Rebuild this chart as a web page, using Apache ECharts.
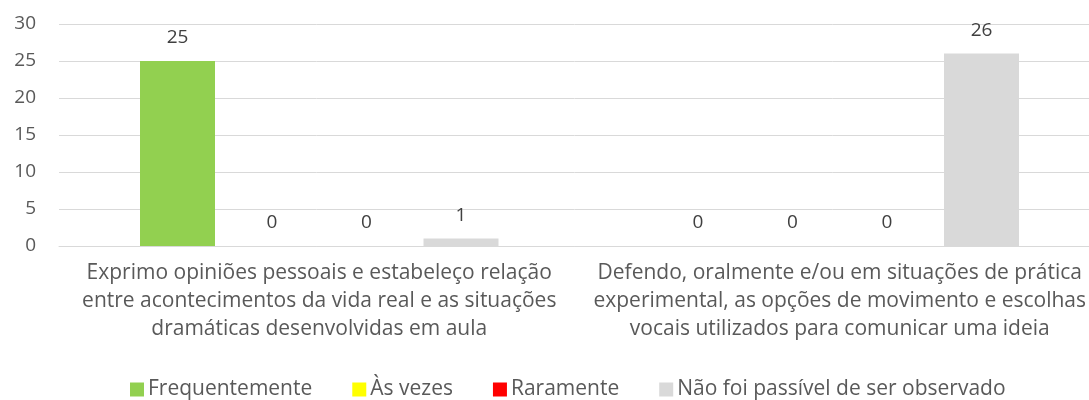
<!DOCTYPE html>
<html>
<head>
<meta charset="utf-8">
<script src="https://cdn.jsdelivr.net/npm/echarts@6/dist/echarts.min.js"></script>
<style>
  html, body { margin: 0; padding: 0; background: #fff; }
  #chart { width: 1089px; height: 400px; }
</style>
</head>
<body>
<div id="chart"></div>
<script>
// categorias (eixo x)
const categories = [
  "Exprimo opiniões pessoais e estabeleço relação\nentre acontecimentos da vida real e as situações\ndramáticas desenvolvidas em aula",
  "Defendo, oralmente e/ou em situações de prática\nexperimental, as opções de movimento e escolhas\nvocais utilizados para comunicar uma ideia"
];
const seriesNames = ["Frequentemente", "Às vezes", "Raramente", "Não foi passível de ser observado"];
const frequentemente = [25, 0];
const asVezes = [0, 0];
const raramente = [0, 0];
const naoObservado = [1, 26];
const colors = ["#92D050", "#FFFF00", "#FF0000", "#D9D9D9"];

const fontFamily = "'Open Sans', sans-serif";
const myChart = echarts.init(document.getElementById("chart"));

const dataList = [frequentemente, asVezes, raramente, naoObservado];
let list = [];
for (let i = 0; i < dataList.length; i++) {
  list.push({
    name: seriesNames[i],
    type: "bar",
    data: dataList[i],
    barWidth: 75,
    barGap: "26%",
    itemStyle: { color: colors[i] },
    label: {
      show: true,
      position: "top",
      distance: 14,
      color: "#404040",
      fontSize: 19,
      fontFamily: fontFamily,
    },
  });
}

const option = {
  animation: false,
  color: colors,
  grid: {
    left: 59,
    width: 1041,
    top: 24,
    bottom: 154,
    containLabel: false,
    outerBoundsMode: "none",
  },
  legend: {
    bottom: 0,
    left: 125,
    padding: [0, 5, 0, 5],
    icon: "rect",
    itemWidth: 14,
    itemHeight: 14,
    itemGap: 40,
    itemStyle: { borderWidth: 0 },
    textStyle: { color: "#595959", fontSize: 21, fontFamily: fontFamily, padding: [0, 0, 0, -1] },
    data: seriesNames,
  },
  xAxis: {
    type: "category",
    data: categories,
    axisLine: { show: true, lineStyle: { color: "#D9D9D9", width: 1 } },
    axisTick: { show: false },
    axisLabel: {
      color: "#595959",
      fontSize: 21,
      lineHeight: 28,
      margin: 13,
      fontFamily: fontFamily,
      interval: 0,
    },
  },
  yAxis: {
    type: "value",
    min: 0,
    max: 30,
    interval: 5,
    axisLine: { show: false },
    axisTick: { show: false },
    splitLine: { lineStyle: { color: "#D9D9D9", width: 1 } },
    axisLabel: {
      color: "#595959",
      fontSize: 19,
      margin: 23,
      fontFamily: fontFamily,
    },
  },
  series: list,
};

myChart.setOption(option);
</script>
</body>
</html>
